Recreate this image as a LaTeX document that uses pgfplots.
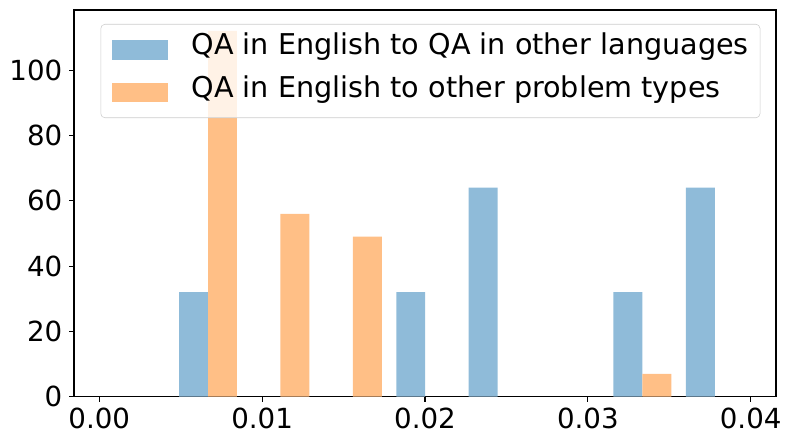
\documentclass[border=0pt]{standalone}
\usepackage{fontspec}
\setmainfont{DejaVu Sans}
\usepackage{pgfplots}
\pgfplotsset{compat=1.18}
\definecolor{cblue}{RGB}{143,187,217}
\definecolor{corange}{RGB}{255,191,134}
\begin{document}
\begin{tikzpicture}
\begin{axis}[
  scale only axis, width=7.02in, height=3.867in,
  xmin=-0.001554, xmax=0.041554, ymin=0, ymax=118.4,
  xtick={0,0.01,0.02,0.03,0.04},
  ytick={0,20,40,60,80,100},
  xticklabel style={/pgf/number format/.cd, fixed, fixed zerofill, precision=2},
  /pgf/number format/assume math mode=true,
  scaled x ticks=false,
  tick label style={font=\fontsize{20}{24}\selectfont},
  tick align=outside, tick pos=left,
  major tick length=0.0486in,
  axis line style={line width=0.8pt},
  every tick/.style={line width=0.8pt, black},
  xticklabel shift=0.02in, yticklabel shift=0.02in,
  legend style={at={(1,1)}, anchor=north east, xshift=-0.157in, yshift=-0.14in,
    draw=black!20, rounded corners=3pt, fill=white, fill opacity=0.8, text opacity=1,
    font=\fontsize{20.7}{24}\selectfont, inner xsep=0.113in, inner ysep=0.125in,
    nodes={inner sep=0pt, text height=0.18in, text depth=0.08in},
    row sep=0.165in, column sep=0.24in},
  legend cell align=left,
  legend image code/.code={\fill[#1, fill opacity=1, sharp corners] (0in,-0.0975in) rectangle (0.556in,0.0975in);},
]
\addplot[ybar, bar width=0.0017784, bar shift=0pt, fill=cblue, draw=none]
  coordinates {(0.005786,32) (0.019124,32) (0.023570,64) (0.032462,32) (0.036908,64)};
\addlegendentry{QA in English to QA in other languages}
\addplot[ybar, bar width=0.0017784, bar shift=0pt, fill=corange, draw=none]
  coordinates {(0.007564,112) (0.012010,56) (0.016456,49) (0.034240,7)};
\addlegendentry{QA in English to other problem types}
\end{axis}
\path ([shift={(-0.74in,-0.483in)}]current axis.south west) rectangle ([shift={(0.17in,0.10in)}]current axis.north east);
\end{tikzpicture}
\end{document}
